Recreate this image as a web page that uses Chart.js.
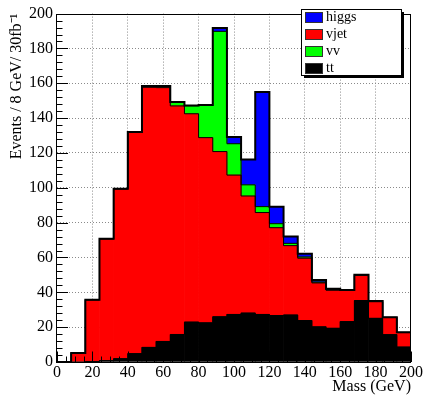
<!DOCTYPE html>
<html>
<head>
<meta charset="utf-8">
<script src="https://cdn.jsdelivr.net/npm/chart.js@4.4.1/dist/chart.umd.min.js"></script>
<style>
  html, body { margin: 0; padding: 0; background: #fff; }
  #wrap { width: 425px; height: 398px; position: relative; }
</style>
</head>
<body>
<div id="wrap"><canvas id="mass"></canvas></div>
<script>
// ── binning: 8 GeV bins, lower edges
const binLow = [0, 8, 16, 24, 32, 40, 48, 56, 64, 72, 80, 88, 96, 104, 112, 120, 128, 136, 144, 152, 160, 168, 176, 184, 192];
const binWidth = 8;

// ── per-sample event counts (stacked bottom → top: tt, vjet, vv, higgs)
const tt    = [0, 0, 0.3, 0.8, 1.9, 4.8, 8.4, 11.8, 15.8, 22.9, 22.5, 26.0, 27.3, 28.1, 27.3, 26.7, 27.0, 23.8, 20.2, 19.4, 23.2, 35.3, 25.1, 15.7, 8.6];
const vjet  = [0, 5.2, 35.4, 69.9, 97.5, 127.2, 149.3, 145.7, 131.2, 119.6, 106.3, 94.8, 80.0, 67.2, 58.5, 50.4, 39.8, 35.8, 25.2, 21.8, 18.0, 14.5, 9.5, 9.9, 8.3];
const vv    = [0, 0, 0, 0, 0, 0, 0.7, 0.8, 2.0, 4.6, 18.5, 69.0, 18.0, 6.4, 3.4, 2.3, 1.3, 0.7, 0.5, 0.3, 0.1, 0.1, 0.2, 0, 0.1];
const higgs = [0, 0, 0, 0, 0, 0, 0.1, 0.2, 0.2, 0.2, 0.3, 2.0, 3.8, 14.5, 65.8, 9.7, 3.9, 1.8, 1.2, 0.6, 0.1, 0.2, 0.2, 0.1, 0.1];

// ── axis ticks
const xTicks = [0, 20, 40, 60, 80, 100, 120, 140, 160, 180, 200];
const yTicks = [0, 20, 40, 60, 80, 100, 120, 140, 160, 180, 200];

const FONT = "'Liberation Serif', 'Times New Roman', serif";

const STACK = [
    { label: 'tt',    values: tt,    color: '#000000' },
    { label: 'vjet',  values: vjet,  color: '#ff0000' },
    { label: 'vv',    values: vv,    color: '#00ff00' },
    { label: 'higgs', values: higgs, color: '#0000ff' },
];
const LEGEND_ORDER = ['higgs', 'vjet', 'vv', 'tt'];

// build floating bars for each layer plus a step outline along its top
const datasets = [];
let base = binLow.map(() => 0);
STACK.forEach((h, k) => {
    const lo = base;
    const hi = lo.map((b, i) => b + h.values[i]);
    datasets.push({
        type: 'bar',
        label: h.label,
        data: binLow.map((x, i) => ({ x: x + binWidth / 2, y: hi[i] > lo[i] ? [lo[i], hi[i]] : null })),
        backgroundColor: h.color,
        borderWidth: 0,
        barPercentage: 1,
        categoryPercentage: 1,
        grouped: false,
        order: 2,
    });
    const last = binLow.length - 1;
    datasets.push({
        type: 'line',
        label: h.label + '-edge',
        data: [...binLow.map((x, i) => ({ x, y: hi[i] })), { x: binLow[last] + binWidth, y: hi[last] }],
        stepped: 'before',
        borderColor: '#000',
        borderWidth: k === STACK.length - 1 ? 2 : 1,
        pointRadius: 0,
        fill: false,
        order: 1,
    });
    base = hi;
});

// ROOT-style frame, inward tick marks and boxed legend
const rootFrame = {
    id: 'rootFrame',
    afterDatasetsDraw(chart) {
        const { ctx, chartArea: a, scales: { x, y } } = chart;
        ctx.save();
        ctx.strokeStyle = '#000';
        ctx.lineWidth = 1;
        ctx.beginPath();
        // y ticks: major every 20, minor every 4
        for (let v = 0; v <= 200; v += 4) {
            const py = Math.round(y.getPixelForValue(v)) + 0.5;
            const len = v % 20 === 0 ? 11 : 5.5;
            ctx.moveTo(a.left, py);
            ctx.lineTo(a.left + len, py);
        }
        // x ticks: major every 20, minor every 5
        for (let v = 0; v <= 200; v += 5) {
            const px = Math.round(x.getPixelForValue(v)) + 0.5;
            const len = v % 20 === 0 ? 10.5 : 5.5;
            ctx.moveTo(px, a.bottom);
            ctx.lineTo(px, a.bottom - len);
        }
        ctx.stroke();
        ctx.strokeRect(Math.round(a.left) - 0.5, Math.round(a.top) + 0.5,
                       Math.round(a.right - a.left), Math.round(a.bottom - a.top));
        ctx.restore();
    },
    afterDraw(chart) {
        const { ctx } = chart;
        const bx = 301, by = 9, bw = 100, bh = 66;
        ctx.save();
        ctx.fillStyle = '#000';
        ctx.fillRect(bx + 3, by + 3, bw, bh);
        ctx.fillStyle = '#fff';
        ctx.fillRect(bx, by, bw, bh);
        ctx.strokeStyle = '#000';
        ctx.lineWidth = 1;
        ctx.strokeRect(bx + 0.5, by + 0.5, bw, bh);
        ctx.font = '14px ' + FONT;
        ctx.textBaseline = 'middle';
        LEGEND_ORDER.forEach((name, i) => {
            const ds = chart.data.datasets.find(d => d.label === name);
            const cy = by + 8.5 + i * 17;
            ctx.fillStyle = ds.backgroundColor;
            ctx.fillRect(bx + 4, cy - 5.5, 18, 11);
            ctx.strokeStyle = '#333';
            ctx.strokeRect(bx + 4.5, cy - 5, 17, 10);
            ctx.fillStyle = '#000';
            ctx.fillText(name, bx + 25, cy);
        });
        ctx.restore();
    },
};

const gridColor = c => (c.tick.value > 0 && c.tick.value < 200) ? '#8a8a8a' : 'rgba(0,0,0,0)';

new Chart(document.getElementById('mass'), {
    type: 'bar',
    data: { datasets },
    options: {
        responsive: true,
        maintainAspectRatio: false,
        animation: false,
        events: [],
        layout: { padding: { top: 12, right: 14, left: 0, bottom: 0 } },
        plugins: { legend: { display: false }, tooltip: { enabled: false } },
        scales: {
            x: {
                type: 'linear',
                min: 0,
                max: 200,
                offset: false,
                afterBuildTicks: s => { s.ticks = xTicks.map(v => ({ value: v })); },
                afterFit: s => { s.height = 36; },
                ticks: { font: { family: FONT, size: 16 }, color: '#000', padding: 1, maxRotation: 0, autoSkip: false },
                grid: { color: gridColor, drawTicks: false, offset: false },
                border: { display: false, dash: [1, 2] },
                title: { display: true, text: 'Mass (GeV)', align: 'end', color: '#000',
                         font: { family: FONT, size: 16 }, padding: { top: 0, bottom: 2 } },
            },
            y: {
                min: 0,
                max: 200,
                afterBuildTicks: s => { s.ticks = yTicks.map(v => ({ value: v })); },
                afterFit: s => { s.width = 57; },
                ticks: { font: { family: FONT, size: 16 }, color: '#000', padding: 4, autoSkip: false },
                grid: { color: gridColor, drawTicks: false },
                border: { display: false, dash: [1, 2] },
                title: { display: true, text: 'Events / 8 GeV/ 30fb⁻¹', align: 'end', color: '#000',
                         font: { family: FONT, size: 16 }, padding: { top: 7, bottom: 0 } },
            },
        },
    },
    plugins: [rootFrame],
});
</script>
</body>
</html>
